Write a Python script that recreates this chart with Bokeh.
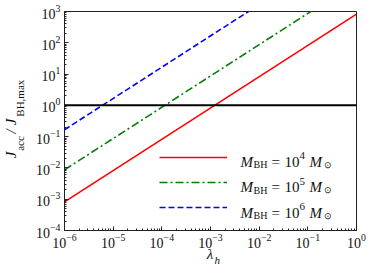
from bokeh.plotting import figure
from bokeh.models import (Legend, LegendItem, Label, FixedTicker, Span, LogAxis)
from bokeh.embed import file_html
from bokeh.resources import INLINE

# data
lam = [1e-6, 1.0]
j_m4 = [8.2e-4, 8.2e2]
j_m5 = [8.7e-3, 8.7e3]
j_m6 = [1.66e-1, 1.66e5]
ref_level = 1.0

x_major = [1e-6, 1e-5, 1e-4, 1e-3, 1e-2, 1e-1, 1.0]
y_major = [1e-4, 1e-3, 1e-2, 1e-1, 1.0, 1e1, 1e2, 1e3]
exponents = ["4", "5", "6"]

# axis-title pieces: text and where along the axis (decade exponent) they sit
ylab_main = [("J", -1.58), ("/", -0.83), ("J", -0.53)]
ylab_sub = [("acc", -1.22), ("BH,max", 0.23)]
xlab_main = [("\u03bb", -3.01)]
xlab_sub = [("h", -2.86)]


def minors(majors):
    out = []
    for m in majors[:-1]:
        for k in range(2, 10):
            out.append(m * k)
    return out


SERIF = "Liberation Serif"
INK = "#111111"

p = figure(width=366, height=268, x_axis_type="log", y_axis_type="log",
           x_range=(1e-6, 1.0), y_range=(1e-4, 1e3),
           output_backend="svg", toolbar_location=None,
           min_border_left=62, min_border_right=10,
           min_border_top=11, min_border_bottom=37)
p.grid.visible = False
p.outline_line_color = "#222222"
p.outline_line_width = 1
p.background_fill_color = "white"
p.border_fill_color = "white"

p.xaxis.ticker = FixedTicker(ticks=x_major, minor_ticks=minors(x_major))
p.yaxis.ticker = FixedTicker(ticks=y_major, minor_ticks=minors(y_major))
for ax in (p.xaxis[0], p.yaxis[0]):
    ax.axis_line_color = "#222222"
    ax.major_tick_line_color = "#222222"
    ax.minor_tick_line_color = "#222222"
    ax.major_tick_in = 4
    ax.major_tick_out = 0
    ax.minor_tick_in = 2
    ax.minor_tick_out = 0
    ax.major_label_text_font = SERIF
    ax.major_label_text_font_size = "14px"
    ax.major_label_text_color = INK
p.xaxis.major_label_standoff = 3
p.yaxis.major_label_standoff = 4


def title_axis(pieces, size, italic, standoff, side):
    ticks = [10 ** e for _, e in pieces]
    ax = LogAxis(ticker=FixedTicker(ticks=ticks, minor_ticks=[]),
                 major_label_overrides={t: s for t, (s, _) in zip(ticks, pieces)},
                 axis_line_color=None, major_tick_line_color=None,
                 minor_tick_line_color=None, major_tick_in=0, major_tick_out=0,
                 minor_tick_in=0, minor_tick_out=0,
                 major_label_standoff=standoff,
                 major_label_text_font=SERIF, major_label_text_font_size=size,
                 major_label_text_font_style="italic" if italic else "normal",
                 major_label_text_color=INK)
    if side == "left":
        ax.major_label_orientation = "parallel"
    p.add_layout(ax, side)


# y title: subscripts closer to the frame, main letters outside
title_axis(ylab_sub, "11px", False, 7, "left")
title_axis(ylab_main, "15px", True, -8, "left")
# x title
title_axis(xlab_main, "15px", True, -5, "below")
title_axis(xlab_sub, "11px", True, -11, "below")

hl = Span(location=ref_level, dimension="width", line_color="black", line_width=2)
p.add_layout(hl)

r4 = p.line(lam, j_m4, line_color="#ff0000", line_width=1.6)
r5 = p.line(lam, j_m5, line_color="#008000", line_width=1.6, line_dash="8 3 2 3")
r6 = p.line(lam, j_m6, line_color="#0000ff", line_width=1.6, line_dash="6 3")

legend = Legend(items=[LegendItem(label=" ", renderers=[r]) for r in (r4, r5, r6)],
                location=(95, 13), glyph_width=68, glyph_height=20, spacing=5,
                padding=0, margin=0, border_line_alpha=0, background_fill_alpha=0,
                label_text_font_size="6px")
p.add_layout(legend)


def lab(x, y, t, size="15px", italic=False):
    p.add_layout(Label(x=x, y=y, x_units="screen", y_units="screen", text=t,
                       text_font=SERIF, text_font_size=size, text_color=INK,
                       text_font_style="italic" if italic else "normal",
                       text_align="left", text_baseline="alphabetic"))


# legend texts
for i, e in enumerate(exponents):
    yb = 69 - 25.5 * i
    lab(176, yb, "M", italic=True)
    lab(189, yb - 3, "BH", size="10px")
    lab(207, yb, "=")
    lab(220, yb, "10")
    lab(235, yb + 6, e, size="11px")
    lab(245, yb, "M", italic=True)
    lab(259, yb - 3, "\u2299", size="9px")

open("out.html", "w").write(file_html(p, INLINE))
